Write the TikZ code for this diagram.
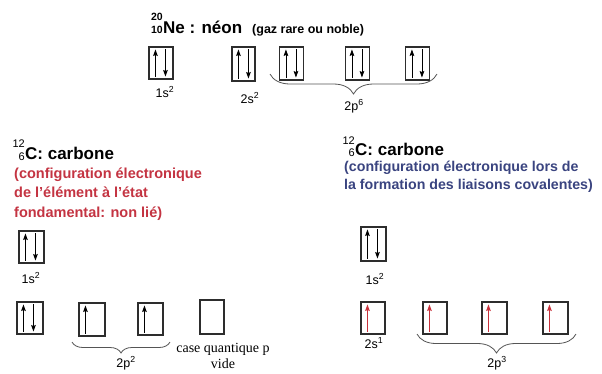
\documentclass[tikz,border=0pt]{standalone}
\usepackage{fontspec}
\setmainfont{Liberation Sans}
\newfontfamily\casefont{Liberation Serif}
\usetikzlibrary{decorations.pathreplacing,arrows.meta,calc}
\definecolor{redtxt}{RGB}{196,52,66}
\definecolor{bluetxt}{RGB}{58,68,128}
\definecolor{redspin}{RGB}{200,48,58}
\definecolor{boxgray}{RGB}{45,45,45}
\definecolor{bracegray}{RGB}{85,85,85}
\newcommand\spinup[2][black]{\draw[spin,#1] ($(#2.south west)+(7,-3)$) -- ($(#2.north west)+(7,3)$);}
\newcommand\spindown[1]{\draw[spin] ($(#1.north west)+(17,3)$) -- ($(#1.south west)+(17,-3)$);}
\begin{document}
\begin{tikzpicture}[x=1pt,y=-1pt,
  orb/.style={draw=boxgray, line width=1.1pt, inner sep=0pt, minimum width=24pt, minimum height=32pt},
  spin/.style={-{Stealth[length=6.5pt,width=4.6pt,inset=1pt]}, line width=0.9pt},
  brc/.style={decorate, decoration={brace,mirror,amplitude=#1}, draw=bracegray, line width=0.8pt},
  lbl/.style={font=\fontsize{12.5}{14}\selectfont, anchor=base, inner sep=0pt},
  title/.style={font=\fontsize{17}{20}\selectfont\bfseries, anchor=base west, inner sep=0pt},
  iso/.style={font=\fontsize{11}{12}\selectfont, anchor=base east, inner sep=0pt},
]
\useasboundingbox[fill=white] (0,0) rectangle (602,373);

% ---------- Neon ----------
\node[iso,font=\fontsize{10.5}{12}\selectfont\bfseries] (neA) at (163,20) {20};
\node[iso,font=\fontsize{10.5}{12}\selectfont\bfseries] (neZ) at (163,33) {10};
\node[title] (neT) at (163,33) {Ne : néon};
\node[anchor=base west, inner sep=0pt, font=\fontsize{12.5}{14}\selectfont\bfseries] (neG) at (252,33) {(gaz rare ou noble)};

\node[orb] (n1s) at (161,63) {};
\node[orb, minimum width=23pt, minimum height=34pt] (n2s) at (243.5,64) {};
\node[orb, minimum height=33pt] (n2pa) at (291.5,63.5) {};
\node[orb, minimum height=33pt] (n2pb) at (357.5,63.5) {};
\node[orb, minimum height=33pt] (n2pc) at (417.5,63.5) {};
\foreach \b in {n1s,n2s,n2pa,n2pb,n2pc}{\spinup{\b}\spindown{\b}}

\coordinate (nbL) at (270,74);
\coordinate (nbR) at (437,74);
\draw[brc=20] (nbL) -- (nbR);

\node[lbl] (n1sl) at (165,97) {1s\textsuperscript{2}};
\node[lbl] (n2sl) at (250,103) {2s\textsuperscript{2}};
\node[lbl] (n2pl) at (354,110) {2p\textsuperscript{6}};

% ---------- Carbon (ground state) ----------
\node[iso] (cA) at (25,147) {12};
\node[iso] (cZ) at (25,160) {6};
\node[title] (cT) at (25,159) {C: carbone};
\begin{scope}[every node/.style={anchor=base west, inner sep=0pt, text=redtxt, font=\fontsize{14.5}{17}\selectfont\bfseries}]
\node (cr1) at (14,178) {(configuration électronique};
\node (cr2) at (14,197.5) {de l'élément à l'état};
\node (cr3) at (14,217) {fondamental: non lié)};
\end{scope}

\node[orb, minimum width=25pt] (c1s) at (31.5,247) {};
\spinup{c1s}\spindown{c1s}
\node[lbl] (c1sl) at (31,283) {1s\textsuperscript{2}};

\node[orb, minimum width=26pt] (c2s) at (30,318) {};
\node[orb, minimum width=26pt, minimum height=33pt] (c2pa) at (92,319.5) {};
\node[orb, minimum width=25pt] (c2pb) at (150.5,319) {};
\node[orb, minimum height=34pt] (c2pc) at (212,317) {};
\spinup{c2s}\spindown{c2s}
\spinup{c2pa}
\spinup{c2pb}

\coordinate (cbL) at (72,342);
\coordinate (cbR) at (170,342);
\draw[brc=11] (cbL) -- (cbR);
\node[lbl] (c2pl) at (126,367) {2p\textsuperscript{2}};
\node[anchor=base, inner sep=0pt, font=\casefont\fontsize{14}{16}\selectfont] (cvide1) at (223,352) {case quantique p};
\node[anchor=base, inner sep=0pt, font=\casefont\fontsize{14}{16}\selectfont] (cvide2) at (223,368) {vide};

% ---------- Carbon (covalent bonding) ----------
\node[iso] (kA) at (355,144.5) {12};
\node[iso] (kZ) at (355,156.5) {6};
\node[title] (kT) at (355,155.5) {C: carbone};
\begin{scope}[every node/.style={anchor=base west, inner sep=0pt, text=bluetxt, font=\fontsize{14.2}{17}\selectfont\bfseries}]
\node (kb1) at (344,171.5) {(configuration électronique lors de};
\node (kb2) at (344,189.5) {la formation des liaisons covalentes)};
\end{scope}

\node[orb, minimum width=25pt, minimum height=34pt] (k1s) at (373.5,244) {};
\spinup{k1s}\spindown{k1s}
\node[lbl] (k1sl) at (375,284) {1s\textsuperscript{2}};

\node[orb] (k2s) at (373,318) {};
\node[orb] (k2pa) at (435,318) {};
\node[orb, minimum width=25pt] (k2pb) at (494.5,318) {};
\node[orb, minimum width=25pt] (k2pc) at (555.5,318) {};
\foreach \b in {k2s,k2pa,k2pb,k2pc}{\spinup[redspin]{\b}}
\node[lbl] (k2sl) at (374,348) {2s\textsuperscript{1}};

\coordinate (kbL) at (417,334);
\coordinate (kbR) at (576,334);
\draw[brc=19] (kbL) -- (kbR);
\node[lbl] (k2pl) at (497,367) {2p\textsuperscript{3}};
\end{tikzpicture}
\end{document}
